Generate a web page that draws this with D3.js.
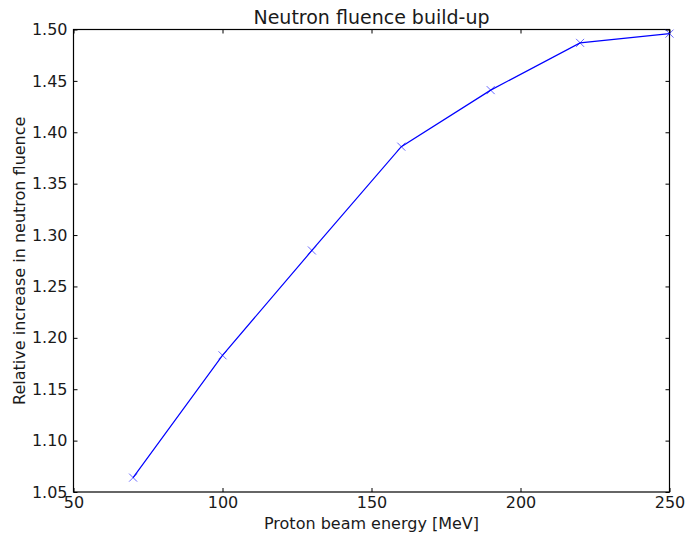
<!DOCTYPE html>
<html>
<head>
<meta charset="utf-8">
<script src="https://cdn.jsdelivr.net/npm/d3@7"></script>
<style>
  body { margin: 0; background: #fff; }
  svg text { font-family: "DejaVu Sans", sans-serif; fill: #000; }
</style>
</head>
<body>
<div id="chart"></div>
<script>
// Data
const energies = [70, 100, 130, 160, 190, 220, 250];
const fluenceIncrease = [1.064, 1.183, 1.285, 1.386, 1.441, 1.487, 1.496];
const xTicks = [50, 100, 150, 200, 250];
const yTicks = [1.05, 1.10, 1.15, 1.20, 1.25, 1.30, 1.35, 1.40, 1.45, 1.50];

var width = 686, height = 538;
var margin = {top: 29.5, right: 16.5, bottom: 46, left: 73.5};
var innerW = width - margin.left - margin.right;
var innerH = height - margin.top - margin.bottom;

var svg = d3.select("#chart")
    .append("svg")
    .attr("width", width)
    .attr("height", height);

var g = svg.append("g")
    .attr("transform", `translate(${margin.left},${margin.top})`);

var xScale = d3.scaleLinear().domain([50, 250]).range([0, innerW]);
var yScale = d3.scaleLinear().domain([1.05, 1.50]).range([innerH, 0]);

// Axes with inward ticks (classic matplotlib look)
var tickLen = 4;
var fmtY = d3.format(".2f");

g.append("g")
    .attr("transform", `translate(0,${innerH})`)
    .call(d3.axisBottom(xScale).tickValues(xTicks).tickSizeInner(-tickLen).tickSizeOuter(0).tickPadding(5))
    .call(a => a.select(".domain").remove())
    .selectAll("text").style("font-size", "16px").style("fill", "#1a1a1a");

g.append("g")
    .call(d3.axisLeft(yScale).tickValues(yTicks).tickFormat(fmtY).tickSizeInner(-tickLen).tickSizeOuter(0).tickPadding(6))
    .call(a => a.select(".domain").remove())
    .selectAll("text").style("font-size", "16px").style("fill", "#1a1a1a");

g.append("g")
    .call(d3.axisTop(xScale).tickValues(xTicks).tickSizeInner(-tickLen).tickSizeOuter(0).tickFormat(""))
    .call(a => a.select(".domain").remove());

g.append("g")
    .attr("transform", `translate(${innerW},0)`)
    .call(d3.axisRight(yScale).tickValues(yTicks).tickSizeInner(-tickLen).tickSizeOuter(0).tickFormat(""))
    .call(a => a.select(".domain").remove());

// Frame
g.append("rect")
    .attr("width", innerW)
    .attr("height", innerH)
    .attr("fill", "none")
    .attr("stroke", "#000")
    .attr("stroke-width", 1.2);

// Line and markers
var points = energies.map((e, i) => ({x: e, y: fluenceIncrease[i]}));

var lineGenerator = d3.line()
    .x(d => xScale(d.x))
    .y(d => yScale(d.y));

g.append("path")
    .datum(points)
    .attr("fill", "none")
    .attr("stroke", "#0000ff")
    .attr("stroke-width", 1.2)
    .attr("d", lineGenerator);

var m = 4;
g.selectAll(".marker")
    .data(points)
    .join("path")
    .attr("class", "marker")
    .attr("d", d => {
        var cx = xScale(d.x), cy = yScale(d.y);
        return `M${cx - m},${cy - m}L${cx + m},${cy + m}M${cx - m},${cy + m}L${cx + m},${cy - m}`;
    })
    .attr("stroke", "#0000ff")
    .attr("stroke-opacity", 0.6)
    .attr("stroke-width", 1);

// Title and axis labels
svg.append("text")
    .attr("x", margin.left + innerW / 2)
    .attr("y", 24)
    .attr("text-anchor", "middle")
    .style("font-size", "19px")
    .style("fill", "#1a1a1a")
    .text("Neutron fluence build-up");

svg.append("text")
    .attr("x", margin.left + innerW / 2)
    .attr("y", 529)
    .attr("text-anchor", "middle")
    .style("font-size", "16px")
    .style("fill", "#1a1a1a")
    .text("Proton beam energy [MeV]");

svg.append("text")
    .attr("transform", `translate(25,${margin.top + innerH / 2}) rotate(-90)`)
    .attr("text-anchor", "middle")
    .style("font-size", "16px")
    .style("fill", "#1a1a1a")
    .text("Relative increase in neutron fluence");
</script>
</body>
</html>
